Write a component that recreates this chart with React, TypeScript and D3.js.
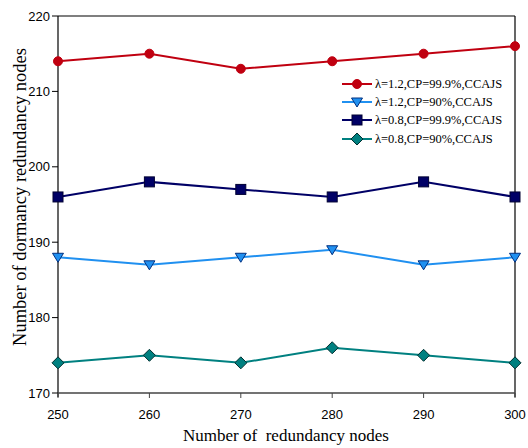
import React from "react";
import * as d3 from "d3";

const xValues = [250, 260, 270, 280, 290, 300];
const yTicks = [170, 180, 190, 200, 210, 220];
const seriesNames = [
  "λ=1.2,CP=99.9%,CCAJS",
  "λ=1.2,CP=90%,CCAJS",
  "λ=0.8,CP=99.9%,CCAJS",
  "λ=0.8,CP=90%,CCAJS",
];
const red = [214, 215, 213, 214, 215, 216];
const lightBlue = [188, 187, 188, 189, 187, 188];
const navy = [196, 198, 197, 196, 198, 196];
const teal = [174, 175, 174, 176, 175, 174];
const colors = ["#c00010", "#2090f0", "#000066", "#008080"];
const markers = ["circle", "triangle", "square", "diamond"];

const W = 528, H = 448;
const L = 58, R = 515, T = 16, B = 393;

function Marker({ type, x, y, color }: { type: string; x: number; y: number; color: string }) {
  if (type === "circle") return <circle cx={x} cy={y} r={4.5} fill={color} stroke={color} />;
  if (type === "square") return <rect x={x - 5} y={y - 5} width={10} height={10} fill={color} stroke="#000033" strokeWidth={1} />;
  if (type === "triangle")
    return <path d={`M${x - 5.5},${y - 4} L${x + 5.5},${y - 4} L${x},${y + 5} Z`} fill={color} stroke="#003080" strokeWidth={1} />;
  return <path d={`M${x},${y - 6} L${x + 6},${y} L${x},${y + 6} L${x - 6},${y} Z`} fill={color} stroke="#003030" strokeWidth={1} />;
}

export default function App() {
  const x = d3.scaleLinear().domain([250, 300]).range([L, R]);
  const y = d3.scaleLinear().domain([170, 220]).range([B, T]);
  const data = [red, lightBlue, navy, teal];
  const line = d3
    .line<number>()
    .x((_, i) => x(xValues[i]))
    .y((d) => y(d));
  const legendY = [84, 102, 120, 139];
  return (
    <svg width={W} height={H} style={{ position: "absolute", left: 0, top: 0, background: "#fff" }}>
      <rect x={0} y={0} width={W} height={H} fill="#fff" />
      <line x1={L} y1={T} x2={R} y2={T} stroke="#000" strokeWidth={1.2} />
      <line x1={R} y1={T} x2={R} y2={B + 4} stroke="#000" strokeWidth={1.2} />
      <line x1={L} y1={T} x2={L} y2={B + 4} stroke="#000" strokeWidth={1.2} />
      <line x1={L} y1={B} x2={R} y2={B} stroke="#444" strokeWidth={1.6} />
      {yTicks.map((t) => (
        <g key={t}>
          <line x1={L - 6} x2={L} y1={y(t)} y2={y(t)} stroke="#000" strokeWidth={1} />
          <text x={L - 8} y={y(t)} dy="0.35em" textAnchor="end" fontFamily="Liberation Sans, Arial" fontSize={13}>
            {t}
          </text>
        </g>
      ))}
      {xValues.map((t) => (
        <g key={t}>
          <line x1={x(t)} x2={x(t)} y1={B} y2={B + 5} stroke="#444" strokeWidth={1} />
          <text x={x(t)} y={419} textAnchor="middle" fontFamily="Liberation Sans, Arial" fontSize={13}>
            {t}
          </text>
        </g>
      ))}
      <text x={286} y={441} textAnchor="middle" fontFamily="Liberation Serif, Times New Roman" fontSize={17}>
        Number of{"\u00a0\u00a0"}redundancy nodes
      </text>
      <text
        transform={`translate(26,197) rotate(-90)`}
        textAnchor="middle"
        fontFamily="Liberation Serif, Times New Roman"
        fontSize={18.5}
      >
        Number of dormancy redundancy nodes
      </text>
      {data.map((s, si) => (
        <g key={si}>
          <path d={line(s) || ""} fill="none" stroke={colors[si]} strokeWidth={2} />
          {s.map((v, i) => (
            <Marker key={i} type={markers[si]} x={x(xValues[i])} y={y(v)} color={colors[si]} />
          ))}
        </g>
      ))}
      {seriesNames.map((n, i) => (
        <g key={n}>
          <line x1={342} x2={372} y1={legendY[i]} y2={legendY[i]} stroke={colors[i]} strokeWidth={2} />
          <Marker type={markers[i]} x={357} y={legendY[i]} color={colors[i]} />
          <text x={375} y={legendY[i]} dy="0.35em" fontFamily="Liberation Serif, Times New Roman" fontSize={12.5}>
            {n}
          </text>
        </g>
      ))}
    </svg>
  );
}
